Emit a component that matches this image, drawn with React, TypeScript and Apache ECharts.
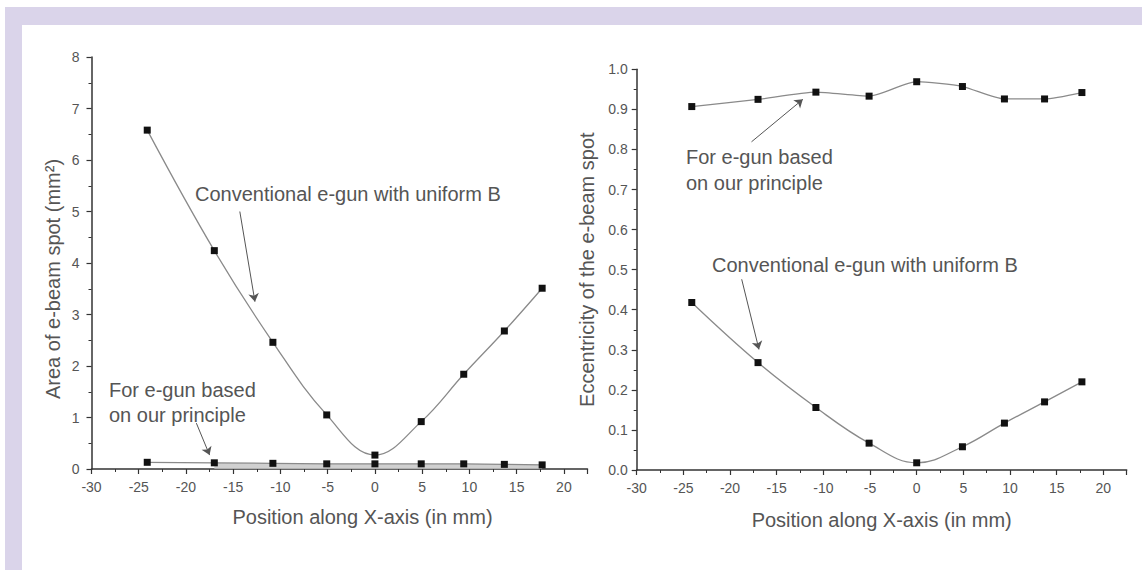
import React, { useEffect, useRef } from "react";
import * as echarts from "echarts";

// ---- data ----
const xPositions = [-24.1, -17, -10.8, -5.1, 0, 4.9, 9.4, 13.7, 17.7];
const areaConventional = [6.58, 4.24, 2.46, 1.05, 0.27, 0.92, 1.84, 2.68, 3.51];
const areaPrinciple = [0.13, 0.12, 0.11, 0.1, 0.1, 0.1, 0.1, 0.09, 0.08];
const eccPrinciple = [0.907, 0.925, 0.943, 0.933, 0.969, 0.957, 0.926, 0.926, 0.942];
const eccConventional = [0.418, 0.268, 0.156, 0.067, 0.018, 0.058, 0.117, 0.17, 0.22];

const xName = "Position along X-axis (in mm)";
const leftYName = "Area of e-beam spot (mm\u00B2)";
const rightYName = "Eccentricity of the e-beam spot";
const labelConventional = "Conventional e-gun with uniform B";
const labelPrincipleLine1 = "For e-gun based";
const labelPrincipleLine2 = "on our principle";

// annotation arrows in data coordinates [x1, y1, x2, y2]
const leftConvArrow = [-14.3, 5.0, -12.7, 3.25];
const leftPrincArrow = [-18.9, 0.89, -17.5, 0.27];
const rightPrincArrow = [-17.7, 0.819, -12.2, 0.925];
const rightConvArrow = [-18.75, 0.476, -16.9, 0.301];

const FONT = "'Liberation Sans', Arial, Helvetica, sans-serif";
const TEXT = "#555";
const AXIS = "#333";

const zip = (xs: number[], ys: number[]) => ys.map((y, i) => [xs[i], y]);

const arrowMark = (a: number[]) => ({
  silent: true,
  symbol: ["none", "arrow"],
  symbolSize: 8,
  label: { show: false },
  lineStyle: { color: "#555", width: 1, type: "solid" },
  itemStyle: { color: "#555" },
  emphasis: { disabled: true },
  data: [[{ coord: [a[0], a[1]] }, { coord: [a[2], a[3]] }]],
});

const xAxisCfg = (gridIndex: number, nameGap: number, padLeft: number) => ({
  type: "value",
  gridIndex,
  min: -30,
  max: 22.5,
  interval: 5,
  name: xName,
  nameLocation: "middle",
  nameGap,
  nameTextStyle: { fontSize: 20, color: TEXT, fontFamily: FONT, padding: [0, 0, 0, padLeft] },
  axisLine: { show: true, onZero: false, lineStyle: { color: AXIS, width: 1.5 } },
  axisTick: { show: true, inside: false, length: 5, lineStyle: { color: AXIS, width: 1.2 } },
  minorTick: { show: true, splitNumber: 2, length: 3, lineStyle: { color: AXIS, width: 1 } },
  splitLine: { show: false },
  minorSplitLine: { show: false },
  axisLabel: {
    fontSize: 14,
    color: TEXT,
    fontFamily: FONT,
    margin: 11,
    formatter: (v: number) => (Math.abs(v % 5) < 1e-9 ? String(v) : ""),
  },
});

const yAxisCfg = (
  gridIndex: number,
  max: number,
  interval: number,
  name: string,
  nameGap: number,
  pad: number[],
  margin: number,
  digits: number
) => ({
  type: "value",
  gridIndex,
  min: 0,
  max,
  interval,
  name,
  nameLocation: "middle",
  nameGap,
  nameTextStyle: { fontSize: 20, color: TEXT, fontFamily: FONT, padding: pad },
  axisLine: { show: true, onZero: false, lineStyle: { color: AXIS, width: 1.5 } },
  axisTick: { show: true, inside: false, length: 5, lineStyle: { color: AXIS, width: 1.2 } },
  minorTick: { show: true, splitNumber: 2, length: 3, lineStyle: { color: AXIS, width: 1 } },
  splitLine: { show: false },
  minorSplitLine: { show: false },
  axisLabel: {
    fontSize: 14,
    color: TEXT,
    fontFamily: FONT,
    margin,
    formatter: (v: number) => v.toFixed(digits),
  },
});

const dataSeries = (
  xi: number,
  ys: number[],
  smooth: number | boolean,
  mark?: any
) => ({
  type: "line",
  xAxisIndex: xi,
  yAxisIndex: xi,
  data: zip(xPositions, ys),
  smooth,
  symbol: "rect",
  symbolSize: 7,
  itemStyle: { color: "#111" },
  lineStyle: { color: "#8a8a8a", width: 1.3 },
  z: 3,
  markLine: mark,
});

const annText = (text: string, x: number, y: number) => ({
  type: "text",
  x,
  y,
  silent: true,
  style: {
    text,
    fontSize: 20,
    fontFamily: FONT,
    fill: TEXT,
    align: "left",
    verticalAlign: "middle",
  },
  z: 10,
});

export default function App() {
  const ref = useRef<HTMLDivElement>(null);

  useEffect(() => {
    if (!ref.current) return;
    const chart = echarts.init(ref.current, undefined, { renderer: "svg" });
    chart.setOption({
      animation: false,
      backgroundColor: "#ffffff",
      grid: [
        { left: 91.5, top: 57, width: 496, height: 412 },
        { left: 636.7, top: 69.3, width: 490, height: 400.7 },
      ],
      xAxis: [xAxisCfg(0, 38, 46), xAxisCfg(1, 40, 0)],
      yAxis: [
        yAxisCfg(0, 8, 1, leftYName, 29, [0, 32, 0, 0], 12, 0),
        yAxisCfg(1, 1, 0.1, rightYName, 40, [0, 0, 0, 0], 9, 1),
      ],
      graphic: [
        { type: "rect", shape: { x: 5, y: 7, width: 1137, height: 18 }, style: { fill: "#dad4ea" }, silent: true, z: -10 },
        { type: "rect", shape: { x: 5, y: 7, width: 17, height: 563 }, style: { fill: "#dad4ea" }, silent: true, z: -10 },
        annText(labelConventional, 195, 194),
        annText(labelPrincipleLine1, 109, 390),
        annText(labelPrincipleLine2, 109, 415),
        annText(labelPrincipleLine1, 686, 157),
        annText(labelPrincipleLine2, 686, 183),
        annText(labelConventional, 712, 265),
      ],
      series: [
        {
          type: "line",
          xAxisIndex: 0,
          yAxisIndex: 0,
          data: zip(xPositions.slice(1), areaPrinciple.slice(1)),
          symbol: "none",
          lineStyle: { width: 0 },
          areaStyle: { color: "#c4c4c4", opacity: 0.8 },
          z: 1,
        },
        dataSeries(0, areaConventional, 0.4, arrowMark(leftConvArrow)),
        dataSeries(0, areaPrinciple, false, arrowMark(leftPrincArrow)),
        dataSeries(1, eccPrinciple, 0.2, arrowMark(rightPrincArrow)),
        dataSeries(1, eccConventional, 0.4, arrowMark(rightConvArrow)),
      ],
    });
    return () => chart.dispose();
  }, []);

  return (
    <div
      ref={ref}
      style={{ position: "fixed", left: 0, top: 0, width: 1142, height: 570, background: "#fff" }}
    />
  );
}
